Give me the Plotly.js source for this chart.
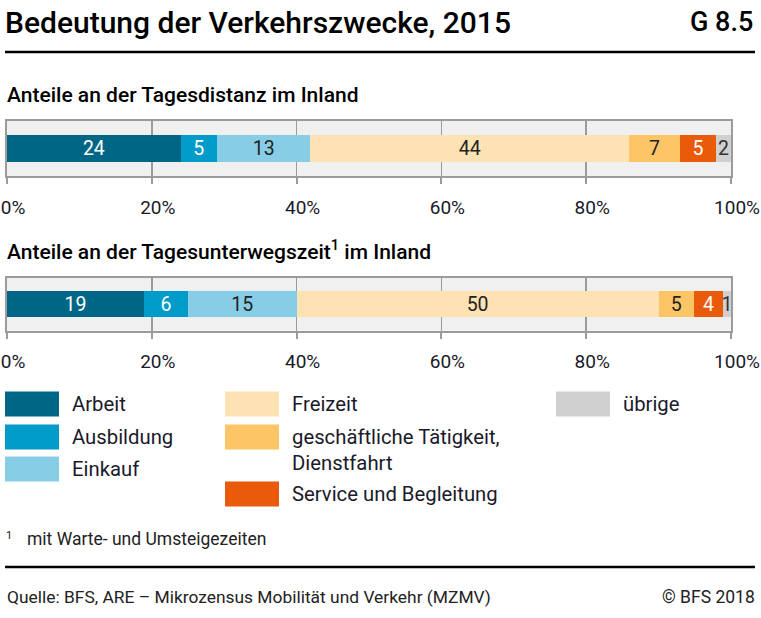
<!DOCTYPE html>
<html>
<head>
<meta charset="utf-8">
<script src="https://cdn.plot.ly/plotly-3.0.1.min.js"></script>
<style>html,body{margin:0;padding:0;background:#fff;}#chart{width:761px;height:618px;}</style>
</head>
<body>
<div id="chart"></div>
<script>
const categories = ['Arbeit', 'Ausbildung', 'Einkauf', 'Freizeit', 'geschäftliche Tätigkeit,<br>Dienstfahrt', 'Service und Begleitung', 'übrige'];
const distanzValues = [24.0, 5.0, 12.9, 44.0, 7.1, 4.9, 2.1];
const zeitValues = [18.9, 6.1, 15.0, 50.0, 4.9, 4.0, 1.1];
const distanzLabels = ['24', '5', '13', '44', '7', '5', '2'];
const zeitLabels = ['19', '6', '15', '50', '5', '4', '1'];
const tickValues = [0, 20, 40, 60, 80, 100];
const tickLabels = ['0%', '20%', '40%', '60%', '80%', '100%'];
const colors = ['#006685', '#009bc8', '#88cde6', '#fde2b3', '#fdc566', '#ea5a0b', '#d0d0d0'];
const textColors = ['#ffffff', '#ffffff', '#222222', '#222222', '#222222', '#ffffff', '#333333'];

const W = 761, H = 618;
const px = x => x / W;
const py = y => 1 - y / H;
const FONT = 'Roboto, "Noto Sans", sans-serif';
const TXT = '#1a1a2a';

const traces = [];
categories.forEach((c, i) => {
  traces.push({
    type: 'bar', orientation: 'h', name: c, y: [0], x: [distanzValues[i]],
    text: [distanzLabels[i]], textposition: 'inside', insidetextanchor: 'middle',
    textangle: 0, constraintext: 'none', cliponaxis: false,
    textfont: {family: FONT, size: 19.5, color: textColors[i]},
    marker: {color: colors[i], line: {width: 0}}, width: 0.5,
    xaxis: 'x', yaxis: 'y', showlegend: false, hoverinfo: 'x+name'
  });
  traces.push({
    type: 'bar', orientation: 'h', name: c, y: [0], x: [zeitValues[i]],
    text: [zeitLabels[i]], textposition: 'inside', insidetextanchor: 'middle',
    textangle: 0, constraintext: 'none', cliponaxis: false,
    textfont: {family: FONT, size: 19.5, color: textColors[i]},
    marker: {color: colors[i], line: {width: 0}}, width: 0.5,
    xaxis: 'x2', yaxis: 'y2', showlegend: false, hoverinfo: 'x+name'
  });
});

const frameColor = '#9b9b9b';
function xAx(anchor) {
  return {
    anchor: anchor, domain: [px(7), px(731)], range: [0, 100],
    tickmode: 'array', tickvals: tickValues, ticktext: tickLabels,
    showgrid: true, gridcolor: frameColor, gridwidth: 1.5,
    showline: true, mirror: true, linecolor: frameColor, linewidth: 2,
    ticks: 'outside', ticklen: 6, tickwidth: 2, tickcolor: frameColor,
    tickfont: {family: FONT, size: 19, color: TXT},
    ticklabelstandoff: 7, ticklabelshift: 6, ticklabeloverflow: 'allow',
    zeroline: false, fixedrange: true
  };
}
function yAx(anchor, top, bottom) {
  return {
    anchor: anchor, domain: [py(bottom), py(top)], range: [-0.5, 0.5],
    showticklabels: false, showgrid: false, zeroline: false,
    showline: true, mirror: true, linecolor: frameColor, linewidth: 2,
    ticks: '', fixedrange: true
  };
}

const shapes = [
  {type: 'line', xref: 'paper', yref: 'paper', x0: px(5), x1: px(755), y0: py(52), y1: py(52), line: {color: '#000', width: 2.5}},
  {type: 'line', xref: 'paper', yref: 'paper', x0: px(5), x1: px(755), y0: py(567), y1: py(567), line: {color: '#000', width: 2.5}}
];
const annotations = [
  {text: 'G 8.5', xref: 'paper', yref: 'paper', x: px(755), y: py(22), xanchor: 'right', yanchor: 'middle', showarrow: false,
   font: {family: FONT, size: 27, color: '#000', weight: 500}},
  {text: 'Anteile an der Tagesdistanz im Inland', xref: 'paper', yref: 'paper', x: px(5), y: py(95), xanchor: 'left', yanchor: 'middle', showarrow: false,
   font: {family: FONT, size: 21, color: '#000', weight: 500}},
  {text: 'Anteile an der Tagesunterwegszeit<sup>1</sup> im Inland', xref: 'paper', yref: 'paper', x: px(5), y: py(250), xanchor: 'left', yanchor: 'middle', showarrow: false,
   font: {family: FONT, size: 21, color: '#000', weight: 500}},
  {text: '1', xref: 'paper', yref: 'paper', x: px(4), y: py(535), xanchor: 'left', yanchor: 'middle', showarrow: false,
   font: {family: FONT, size: 11, color: '#222'}},
  {text: 'mit Warte- und Umsteigezeiten', xref: 'paper', yref: 'paper', x: px(25), y: py(539), xanchor: 'left', yanchor: 'middle', showarrow: false,
   font: {family: FONT, size: 17.5, color: '#222'}},
  {text: 'Quelle: BFS, ARE – Mikrozensus Mobilität und Verkehr (MZMV)', xref: 'paper', yref: 'paper', x: px(5), y: py(597), xanchor: 'left', yanchor: 'middle', showarrow: false,
   font: {family: FONT, size: 17.4, color: '#222'}},
  {text: '© BFS 2018', xref: 'paper', yref: 'paper', x: px(757), y: py(597), xanchor: 'right', yanchor: 'middle', showarrow: false,
   font: {family: FONT, size: 17.5, color: '#222'}}
];

// Legend (swatches + labels), arranged in three columns
const legendCol = [0, 0, 0, 1, 1, 1, 2];
const legendRow = [0, 1, 2, 0, 1, 2, 0];
const colX = [5, 225, 556];
const rowY = [404, 437, 494];
const rowYcol0 = [404, 437, 469];
categories.forEach((c, i) => {
  const cx = colX[legendCol[i]];
  const cy = legendCol[i] === 0 ? rowYcol0[legendRow[i]] : rowY[legendRow[i]];
  shapes.push({type: 'rect', xref: 'paper', yref: 'paper', x0: px(cx), x1: px(cx + 54), y0: py(cy + 12.5), y1: py(cy - 12.5),
    fillcolor: colors[i], line: {width: 0}});
  const multi = c.indexOf('<br>') >= 0;
  annotations.push({text: c, xref: 'paper', yref: 'paper', x: px(cx + 65), y: py(multi ? cy - 14 : cy), xanchor: 'left',
    yanchor: multi ? 'top' : 'middle', align: 'left', showarrow: false,
    font: {family: FONT, size: 20.3, color: TXT}});
});

const layout = {
  width: W, height: H, margin: {l: 0, r: 0, t: 0, b: 0},
  paper_bgcolor: '#ffffff', plot_bgcolor: '#f0f0f0',
  barmode: 'stack', showlegend: false, bargap: 0,
  title: {text: 'Bedeutung der Verkehrszwecke, 2015', x: px(5), xanchor: 'left', xref: 'paper', y: py(22), yanchor: 'middle',
    font: {family: FONT, size: 30, color: '#000', weight: 500}},
  xaxis: xAx('y'), yaxis: yAx('x', 121, 176),
  xaxis2: xAx('y2'), yaxis2: yAx('x2', 277.5, 330.5),
  shapes: shapes, annotations: annotations,
  font: {family: FONT, color: TXT}
};

Plotly.newPlot('chart', traces, layout, {displayModeBar: false, staticPlot: true});
</script>
</body>
</html>
